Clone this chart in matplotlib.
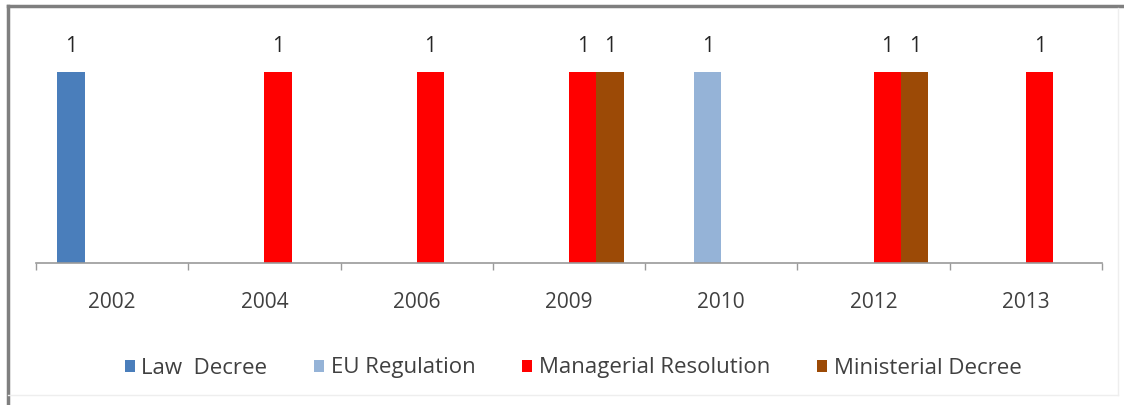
import numpy as np
import matplotlib.pyplot as plt
from matplotlib.lines import Line2D
from matplotlib.patches import Patch

# regulations issued per year, by type
years = ["2002", "2004", "2006", "2009", "2010", "2012", "2013"]
law_decree = [1, 0, 0, 0, 0, 0, 0]
eu_regulation = [0, 0, 0, 0, 1, 0, 0]
managerial_resolution = [0, 1, 1, 1, 0, 1, 1]
ministerial_decree = [0, 0, 0, 1, 0, 1, 0]

series_names = ["Law  Decree", "EU Regulation", "Managerial Resolution", "Ministerial Decree"]
series_values = [law_decree, eu_regulation, managerial_resolution, ministerial_decree]
colors = ["#4a7ebb", "#95b3d7", "#ff0000", "#9c4a06"]

plt.rcParams["font.family"] = ["Open Sans", "DejaVu Sans"]

fig = plt.figure(figsize=(11.24, 4.05), dpi=100)
ax = fig.add_axes([36 / 1124, 1 - 263 / 405, (1102 - 36) / 1124, (263 - 34) / 405])

x = np.arange(len(years))
w = 0.18
offsets = (np.arange(4) - 1.5) * w

for vals, off, col in zip(series_values, offsets, colors):
    vals = np.array(vals, dtype=float)
    bars = ax.bar(x + off, vals, width=w, color=col, linewidth=0)
    labels = ["%d" % v if v > 0 else "" for v in vals]
    ax.bar_label(bars, labels=labels, padding=11, fontsize=15, color="#262626")

ax.set_xlim(-0.5, len(years) - 0.5)
ax.set_ylim(0, 1.2)
ax.set_yticks([])
for s in ["top", "right", "left"]:
    ax.spines[s].set_visible(False)
ax.spines["bottom"].set_color("#9a9a9a")
ax.spines["bottom"].set_linewidth(1.2)

# category labels in the middle, tick marks on the boundaries
ax.set_xticks(x)
ax.set_xticklabels(years, fontsize=15, color="#404040")
ax.tick_params(axis="x", which="major", length=0, pad=21)
ax.set_xticks(np.arange(len(years) + 1) - 0.5, minor=True)
ax.tick_params(axis="x", which="minor", length=5, color="#9a9a9a", width=1)

handles = [Patch(facecolor=c, edgecolor="none") for c in colors]
fig.legend(
    handles,
    series_names,
    loc="center",
    bbox_to_anchor=(573 / 1124, 1 - 368 / 405),
    ncol=4,
    frameon=False,
    fontsize=16,
    labelcolor="#404040",
    handlelength=0.45,
    handleheight=0.45,
    handletextpad=0.3,
    columnspacing=2.1,
)

# chart frame
fig.add_artist(Line2D([8 / 1124, 8 / 1124], [0, 1 - 6 / 405], color="#7f7f7f", lw=2.5))
fig.add_artist(Line2D([8 / 1124, 1], [1 - 6 / 405, 1 - 6 / 405], color="#7f7f7f", lw=2.5))
fig.add_artist(Line2D([8 / 1124, 1118 / 1124], [1 - 395 / 405, 1 - 395 / 405], color="#eeeeee", lw=1))
fig.add_artist(Line2D([1118 / 1124, 1118 / 1124], [1 - 395 / 405, 1 - 8 / 405], color="#eeeeee", lw=1))

fig.savefig("out.png", dpi=100)
